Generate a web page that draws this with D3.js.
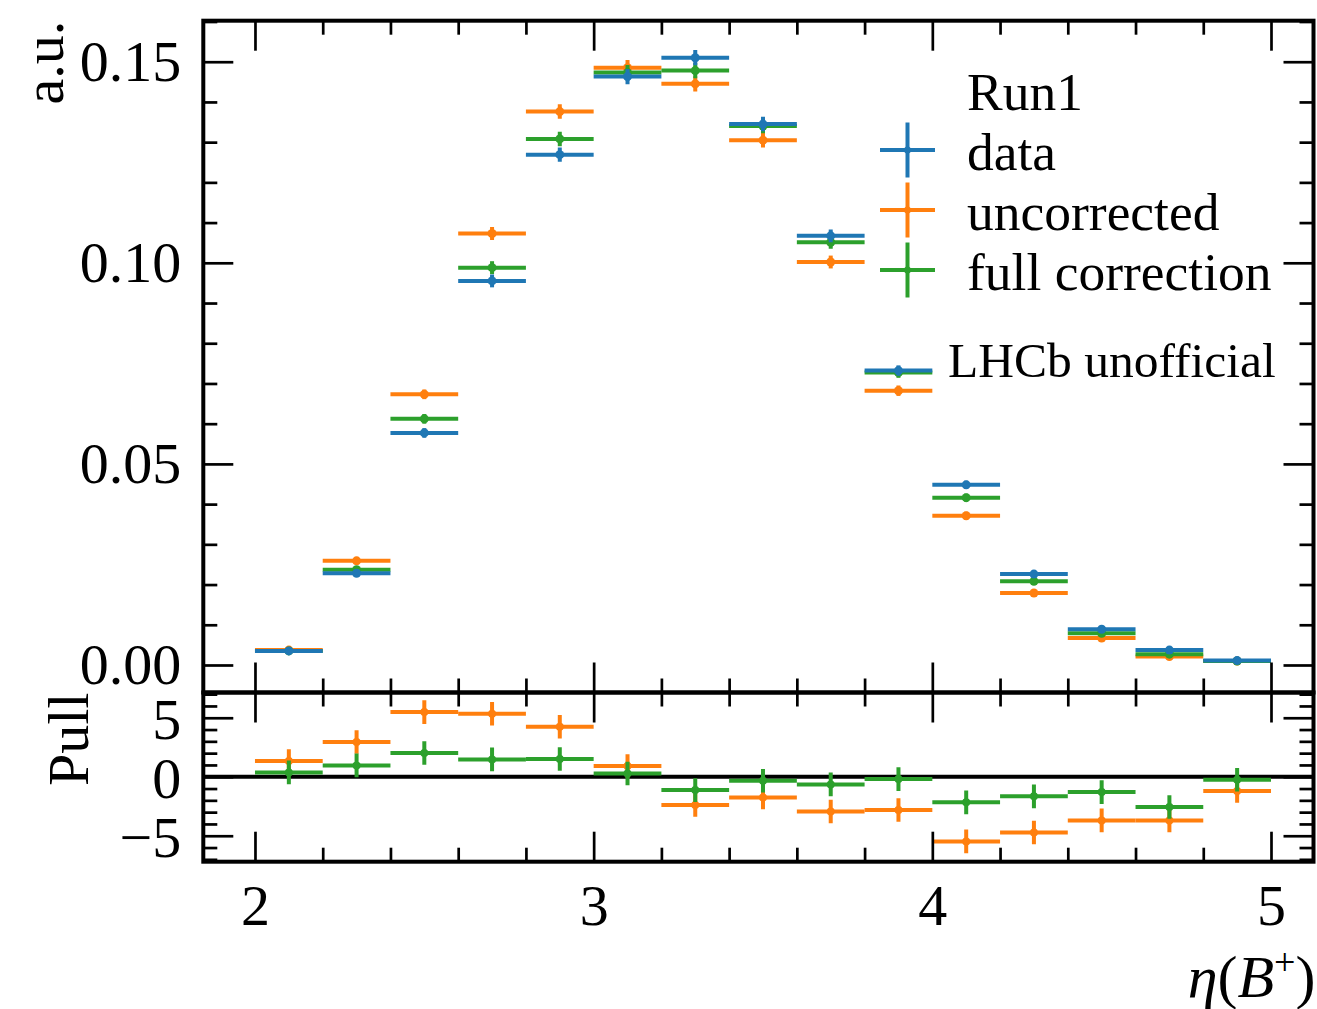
<!DOCTYPE html>
<html><head><meta charset="utf-8">
<script src="https://cdn.jsdelivr.net/npm/d3@7"></script>
<style>
body{margin:0;background:#fff}
text{font-family:"Liberation Serif","Times New Roman",serif;fill:#000}
</style>
</head><body>
<svg id="c" width="1317" height="1009" xmlns="http://www.w3.org/2000/svg"></svg>
<script>
// ---------------- data ----------------
const binCenters = [2.1,2.3,2.5,2.7,2.9,3.1,3.3,3.5,3.7,3.9,4.1,4.3,4.5,4.7,4.9];
const binHalfWidth = 0.1;
const dataVals   = [0.0035,0.0228,0.0577,0.0955,0.1269,0.1463,0.1510,0.1345,0.1067,0.0732,0.0448,0.0226,0.0089,0.0037,0.0011];
const uncorrVals = [0.0037,0.0259,0.0673,0.1073,0.1376,0.1485,0.1445,0.1305,0.1002,0.0682,0.0371,0.0179,0.0067,0.0021,0.0010];
const fullVals   = [0.0035,0.0237,0.0612,0.0988,0.1308,0.1473,0.1478,0.1340,0.1051,0.0727,0.0416,0.0208,0.0079,0.0027,0.0010];
const mainErr    = [0.0003,0.0008,0.0012,0.0016,0.0018,0.0019,0.0019,0.0018,0.0016,0.0013,0.0010,0.0007,0.0004,0.0003,0.0002];
const pullUncorr = [1.33,2.94,5.48,5.34,4.24,0.91,-2.40,-1.75,-2.94,-2.82,-5.48,-4.72,-3.70,-3.70,-1.21];
const pullFull   = [0.37,0.96,2.01,1.47,1.50,0.28,-1.13,-0.34,-0.65,-0.20,-2.17,-1.66,-1.30,-2.57,-0.25];
const pullErr    = [1,1,1,1,1,1,1,1,1,1,1,1,1,1,1];

const xMajorTicks = [2,3,4,5];
const xTickLabels = ["2","3","4","5"];
const xMinorTicks = [2.2,2.4,2.6,2.8,3.2,3.4,3.6,3.8,4.2,4.4,4.6,4.8];
const yMainMajor = [0,0.05,0.10,0.15];
const yMainLabels = ["0.00","0.05","0.10","0.15"];
const yMainMinor = [0.01,0.02,0.03,0.04,0.06,0.07,0.08,0.09,0.11,0.12,0.13,0.14,0.16];
const yPullMajor = [-5,0,5];
const yPullLabels = ["\u22125","0","5"];
const yPullMinor = [-7,-6,-4,-3,-2,-1,1,2,3,4,6,7];

const seriesNames = ["data","uncorrected","full correction"];
const legendTitle = "Run1";
const colors = {data:"#1f77b4", uncorrected:"#ff7f0e", full:"#2ca02c"};

// ---------------- layout ----------------
const L = 203.3, R = 1313.5, T = 20.7, MB = 692.5, PB = 861.7;
const svg = d3.select("#c");

const x = d3.scaleLinear().domain([1.8474, 5.1255]).range([L, R]);
const yM = d3.scaleLinear().domain([-0.00684, 0.1602]).range([MB, T]);
const yP = d3.scaleLinear().domain([-7.2, 7.14]).range([PB, MB]);

const LW = 4, TW = 2.7, MAJ = 30, MIN = 14;

function tickAxis(axisGen, scale, values, size, transform){
  const g = svg.append("g").attr("transform", transform)
    .call(axisGen(scale).tickValues(values).tickSize(size).tickFormat(""));
  g.select(".domain").remove();
  g.selectAll(".tick line").attr("stroke","#000").attr("stroke-width",TW);
  return g;
}

function panelTicks(yScale, yMajor, yMinor, top, bottom){
  tickAxis(d3.axisBottom, x, xMajorTicks, MAJ, `translate(0,${top})`);
  tickAxis(d3.axisBottom, x, xMinorTicks, MIN, `translate(0,${top})`);
  tickAxis(d3.axisTop, x, xMajorTicks, MAJ, `translate(0,${bottom})`);
  tickAxis(d3.axisTop, x, xMinorTicks, MIN, `translate(0,${bottom})`);
  tickAxis(d3.axisRight, yScale, yMajor, MAJ, `translate(${L},0)`);
  tickAxis(d3.axisRight, yScale, yMinor, MIN, `translate(${L},0)`);
  tickAxis(d3.axisLeft, yScale, yMajor, MAJ, `translate(${R},0)`);
  tickAxis(d3.axisLeft, yScale, yMinor, MIN, `translate(${R},0)`);
}

function errorbars(g, centers, vals, errs, yScale, color, r){
  const gg = g.append("g");
  centers.forEach((c,i)=>{
    gg.append("line").attr("x1",x(c-binHalfWidth)).attr("x2",x(c+binHalfWidth))
      .attr("y1",yScale(vals[i])).attr("y2",yScale(vals[i]))
      .attr("stroke",color).attr("stroke-width",LW);
    gg.append("line").attr("x1",x(c)).attr("x2",x(c))
      .attr("y1",yScale(vals[i]-errs[i])).attr("y2",yScale(vals[i]+errs[i]))
      .attr("stroke",color).attr("stroke-width",LW);
    gg.append("circle").attr("cx",x(c)).attr("cy",yScale(vals[i])).attr("r",r).attr("fill",color);
  });
}

// clip paths
const defs = svg.append("defs");
defs.append("clipPath").attr("id","clipM").append("rect").attr("x",L).attr("y",T).attr("width",R-L).attr("height",MB-T);
defs.append("clipPath").attr("id","clipP").append("rect").attr("x",L).attr("y",MB).attr("width",R-L).attr("height",PB-MB);

// ---------------- main panel ----------------
const gm = svg.append("g").attr("clip-path","url(#clipM)");
errorbars(gm, binCenters, uncorrVals, mainErr, yM, colors.uncorrected, 4.5);
errorbars(gm, binCenters, fullVals, mainErr, yM, colors.full, 4.5);
errorbars(gm, binCenters, dataVals, mainErr, yM, colors.data, 4.5);

// ---------------- pull panel ----------------
const gp = svg.append("g").attr("clip-path","url(#clipP)");
gp.append("line").attr("x1",L).attr("x2",R).attr("y1",yP(0)).attr("y2",yP(0))
  .attr("stroke","#000").attr("stroke-width",LW);
errorbars(gp, binCenters, pullUncorr, pullErr, yP, colors.uncorrected, 4);
errorbars(gp, binCenters, pullFull, pullErr, yP, colors.full, 4);

// ticks
panelTicks(yM, yMainMajor, yMainMinor, T, MB);
panelTicks(yP, yPullMajor, yPullMinor, MB, PB);

// spines
svg.append("rect").attr("x",L).attr("y",T).attr("width",R-L).attr("height",MB-T)
  .attr("fill","none").attr("stroke","#000").attr("stroke-width",LW);
svg.append("rect").attr("x",L).attr("y",MB).attr("width",R-L).attr("height",PB-MB)
  .attr("fill","none").attr("stroke","#000").attr("stroke-width",LW);

// ---------------- tick labels ----------------
const FS = 58;
const gl1 = svg.append("g").attr("transform",`translate(${L-22},0)`)
  .call(d3.axisLeft(yM).tickValues(yMainMajor).tickSize(0).tickPadding(0)
    .tickFormat((d,i)=>yMainLabels[i]));
const gl2 = svg.append("g").attr("transform",`translate(${L-22},0)`)
  .call(d3.axisLeft(yP).tickValues(yPullMajor).tickSize(0).tickPadding(0)
    .tickFormat((d,i)=>yPullLabels[i]));
const gl3 = svg.append("g").attr("transform",`translate(0,${PB+22})`)
  .call(d3.axisBottom(x).tickValues(xMajorTicks).tickSize(0).tickPadding(0)
    .tickFormat((d,i)=>xTickLabels[i]));
[gl1,gl2,gl3].forEach(g=>{
  g.select(".domain").remove();
  g.selectAll("text").attr("font-size",FS).attr("font-family","Liberation Serif").attr("fill","#000");
});
gl1.selectAll("text").attr("dy","0.32em");
gl2.selectAll("text").attr("dy","0.36em");
gl3.selectAll("text").attr("dy","0.72em");

// ---------------- axis labels ----------------
svg.append("text").attr("transform",`translate(63,${T}) rotate(-90)`)
  .attr("text-anchor","end").attr("font-size",FS).text("a.u.");
svg.append("text").attr("transform",`translate(88,${MB}) rotate(-90)`)
  .attr("text-anchor","end").attr("font-size",FS).text("Pull");
const xl = svg.append("text").attr("x",R+2).attr("y",997).attr("text-anchor","end").attr("font-size",60);
xl.append("tspan").attr("font-style","italic").text("\u03B7");
xl.append("tspan").text("(");
xl.append("tspan").attr("font-style","italic").text("B");
xl.append("tspan").attr("font-size",38).attr("dy",-22).text("+");
xl.append("tspan").attr("dy",22).text(")");

// ---------------- legend ----------------
const LFS = 53.5;
svg.append("text").attr("x",967).attr("y",110).attr("font-size",LFS).text(legendTitle);
const legColors = [colors.data, colors.uncorrected, colors.full];
seriesNames.forEach((name,i)=>{
  const cy = 150 + i*60, cx = 907.5;
  svg.append("line").attr("x1",cx-27.5).attr("x2",cx+27.5).attr("y1",cy).attr("y2",cy)
    .attr("stroke",legColors[i]).attr("stroke-width",LW);
  svg.append("line").attr("x1",cx).attr("x2",cx).attr("y1",cy-27.5).attr("y2",cy+27.5)
    .attr("stroke",legColors[i]).attr("stroke-width",LW);
  svg.append("circle").attr("cx",cx).attr("cy",cy).attr("r",3.5).attr("fill",legColors[i]);
  svg.append("text").attr("x",967).attr("y",cy+20).attr("font-size",LFS).text(name);
});
svg.append("text").attr("x",948).attr("y",377).attr("font-size",49.5).text("LHCb unofficial");
</script>
</body></html>
